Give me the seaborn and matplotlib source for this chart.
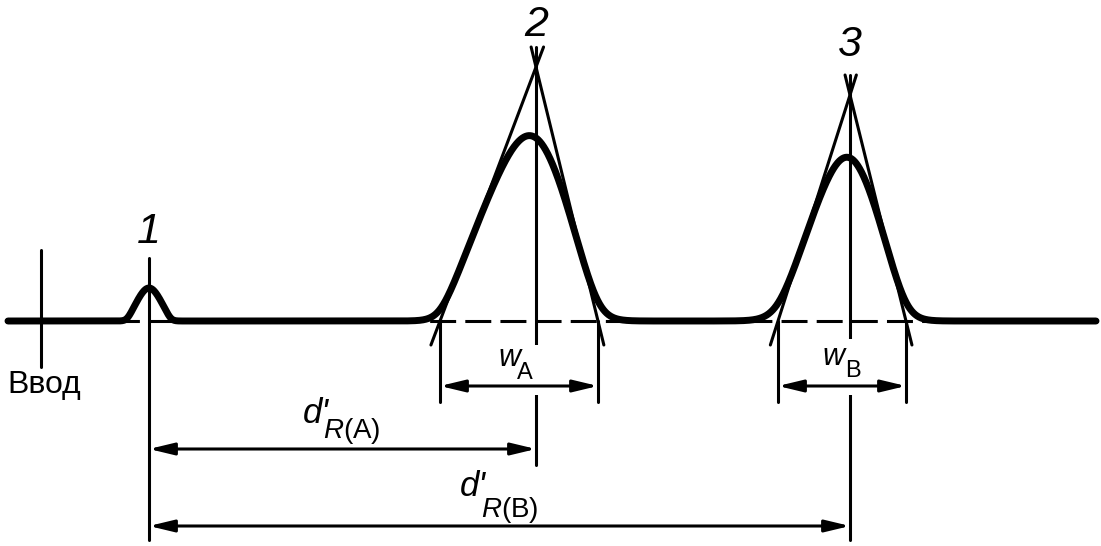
import numpy as np
import pandas as pd
import matplotlib
matplotlib.use("Agg")
import matplotlib.pyplot as plt
import seaborn as sns
from matplotlib.patches import Rectangle

# ---------------- data (x = position along the record, y = signal above baseline) -------------
peak_labels = ["1", "2", "3"]
peak_centers = [149, 536, 850]
peak_heights = [33, 183, 163]          # true maximum of each peak
peak_apex = [46, 254, 226]             # where the inflection tangents cross
peak_left_base = [127, 440, 778]       # tangent / baseline intersections
peak_right_base = [171, 598, 906]
peak_left_foot = [4.0, 17.0, 26.0]     # foot rounding
peak_right_foot = [4.0, 30.0, 28.0]

tangent_peaks = [1, 2]                 # peaks 2 and 3 (A and B) get the construction
width_labels = ["A", "B"]

injection_x = 41
injection_label = "Ввод"
record_start, record_end = 8, 1096

# ---------------- layout (styles / positions, not data) ----------------
THICK = 5.0
THIN = 2.2
w_arrow_y = -65
w_ext_bottom = -81
d_arrow_y = [-128, -205]
label_y = [89, 296, 276]
w_text_x = [498, 822]
w_sub_x = [517, 845]
w_text_base = [-45, -44]
w_sub_base = [-58, -56]
gap_ranges = [(-24, -74), (-18, -74)]
d_text_x = [303, 460]
d_sub_x = [323, 481]
d_text_base = [-102, -175]
d_sub_base = [-117, -196]

sns.set_theme(style="white")
plt.rcParams["font.family"] = ["Liberation Sans", "DejaVu Sans"]
plt.rcParams["text.color"] = "black"
plt.rcParams["mathtext.fontset"] = "custom"
plt.rcParams["mathtext.rm"] = "Liberation Sans"
plt.rcParams["mathtext.it"] = "Liberation Sans:italic"

fig = plt.figure(figsize=(11.01, 5.46), dpi=100)
ax = fig.add_axes([0, 0, 1, 1])
ax.set_xlim(0, 1101)
ax.set_ylim(-225, 321)
ax.axis("off")

# ---------------- chromatogram curve: tangent triangle with rounded top and feet ----------------
x = np.linspace(record_start, record_end, 5000)
y = np.zeros_like(x)
for c, h, A, lb, rb, kl, kr in zip(peak_centers, peak_heights, peak_apex, peak_left_base,
                                    peak_right_base, peak_left_foot, peak_right_foot):
    left_line = A * (x - lb) / (c - lb)
    right_line = A * (rb - x) / (rb - c)
    ktop = (A - h) / np.log(2.0)
    tri = -ktop * np.logaddexp(-left_line / ktop, -right_line / ktop)
    kf = np.where(x < c, kl, kr)
    y += kf * np.logaddexp(0.0, tri / kf)
df = pd.DataFrame({"x": x, "signal": y})

# dashed baseline (hidden under the curve where the curve is flat)
ax.plot([record_start, record_end], [0, 0], color="black", lw=THIN,
        dashes=(8.5, 3.0), zorder=1, solid_capstyle="butt")

sns.lineplot(data=df, x="x", y="signal", ax=ax, color="black", lw=THICK,
             estimator=None, sort=False, zorder=3)
ax.set_xlabel("")
ax.set_ylabel("")

# injection mark
ax.plot([injection_x, injection_x], [71, -46], color="black", lw=THIN, zorder=2)
ax.text(injection_x + 3, -64, injection_label, fontsize=23, ha="center", va="center")

# peak 1 vertical and labels
c1 = peak_centers[0]
ax.plot([c1, c1], [peak_heights[0] + 30, d_arrow_y[1] - 14], color="black", lw=THIN, zorder=2)

for lab, c, ly in zip(peak_labels, peak_centers, label_y):
    ax.text(c, ly, lab, fontsize=31, style="italic", ha="center", va="center")

arrow_style = "<|-|>,head_length=1.5,head_width=0.36"
for k, pi in enumerate(tangent_peaks):
    c = peak_centers[pi]
    A = peak_apex[pi]
    for base in (peak_left_base[pi], peak_right_base[pi]):
        t0 = -20.0 / A
        t1 = 1 + 24.0 / A
        xs = [c + t0 * (base - c), c + t1 * (base - c)]
        ys = [A - t0 * A, A - t1 * A]
        ax.plot(xs, ys, color="black", lw=THIN, zorder=2)
        ax.plot([base, base], [0, w_ext_bottom], color="black", lw=THIN, zorder=2)
    # center vertical
    bottom = d_arrow_y[k] - (16 if k == 0 else 14)
    ax.plot([c, c], [A + 20, bottom], color="black", lw=THIN, zorder=2)
    g0, g1 = gap_ranges[k]
    ax.add_patch(Rectangle((c - 5, g1), 10, g0 - g1, facecolor="white",
                           edgecolor="none", zorder=4))
    # width arrow
    ax.annotate("", xy=(peak_left_base[pi], w_arrow_y), xytext=(peak_right_base[pi], w_arrow_y),
                arrowprops=dict(arrowstyle=arrow_style, color="black", lw=THIN,
                                shrinkA=0, shrinkB=0, mutation_scale=10), zorder=5)
    ax.text(w_text_x[k], w_text_base[k], "w", fontsize=22, style="italic",
            ha="left", va="baseline", zorder=6)
    ax.text(w_sub_x[k], w_sub_base[k], width_labels[k], fontsize=17,
            ha="left", va="baseline", zorder=6)
    # retention distance arrow
    ax.annotate("", xy=(c1, d_arrow_y[k]), xytext=(c, d_arrow_y[k]),
                arrowprops=dict(arrowstyle=arrow_style, color="black", lw=THIN,
                                shrinkA=0, shrinkB=0, mutation_scale=10), zorder=5)
    ax.text(d_text_x[k], d_text_base[k], "d'", fontsize=25, style="italic",
            ha="left", va="baseline", zorder=6)
    ax.text(d_sub_x[k], d_sub_base[k], "$R$(" + width_labels[k] + ")", fontsize=20,
            ha="left", va="baseline", zorder=6)

fig.savefig("out.png", dpi=100, facecolor="white")
